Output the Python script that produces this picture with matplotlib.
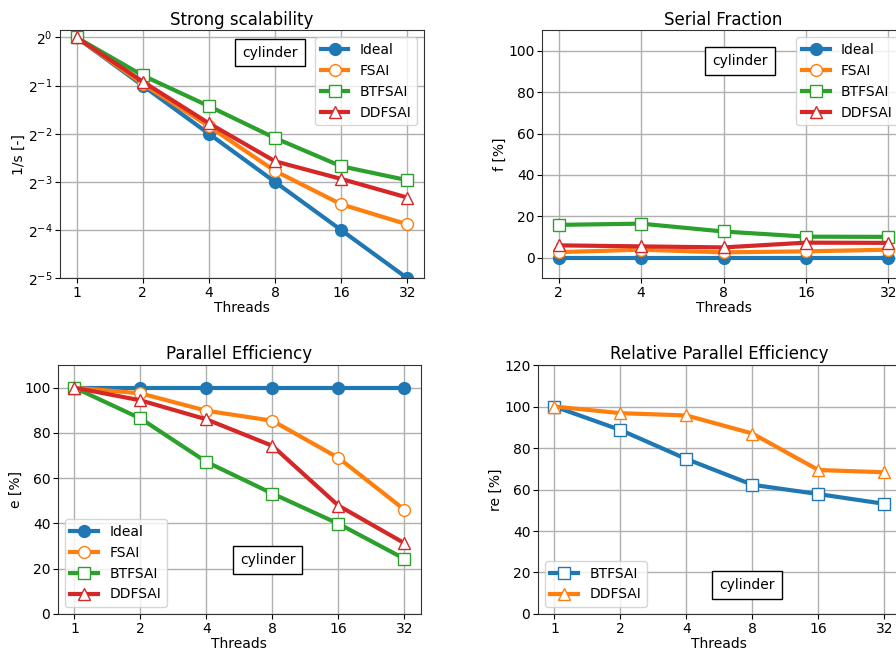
import numpy as np
import matplotlib
matplotlib.use('Agg')
import matplotlib.pyplot as plt

# thread counts
threads = [1, 2, 4, 8, 16, 32]
threads_sf = [2, 4, 8, 16, 32]

# strong scalability, 1/s
ss_ideal = [1.0, 0.5, 0.25, 0.125, 0.0625, 0.03125]
ss_fsai = [1.0, 0.5128, 0.2784, 0.1464, 0.0906, 0.0678]
ss_btfsai = [1.0, 0.5787, 0.3720, 0.2350, 0.1566, 0.1281]
ss_ddfsai = [1.0, 0.5297, 0.2907, 0.1682, 0.1305, 0.0998]

# serial fraction [%]
sf_ideal = [0, 0, 0, 0, 0]
sf_fsai = [2.6, 3.8, 2.5, 3.0, 3.8]
sf_btfsai = [15.8, 16.4, 12.6, 10.1, 10.0]
sf_ddfsai = [5.9, 5.4, 4.9, 7.2, 7.1]

# parallel efficiency [%]
pe_ideal = [100, 100, 100, 100, 100, 100]
pe_fsai = [100, 97.5, 89.8, 85.4, 69.0, 46.1]
pe_btfsai = [100, 86.4, 67.2, 53.2, 39.9, 24.4]
pe_ddfsai = [100, 94.4, 86.0, 74.3, 47.9, 31.3]

# relative parallel efficiency [%]
rpe_btfsai = [100, 88.7, 74.7, 62.3, 57.8, 53.1]
rpe_ddfsai = [100, 96.8, 95.7, 87.0, 69.4, 68.3]

labels = ['Ideal', 'FSAI', 'BTFSAI', 'DDFSAI']
colors = ['#1f77b4', '#ff7f0e', '#2ca02c', '#d62728']
markers = ['o', 'o', 's', '^']

fig = plt.figure(figsize=(8.96, 6.5), dpi=100)
ax1 = fig.add_axes([0.067, 0.572, 0.406, 0.3815])
ax2 = fig.add_axes([0.605, 0.572, 0.405, 0.3815])
ax3 = fig.add_axes([0.0647, 0.0554, 0.405, 0.383])
ax4 = fig.add_axes([0.6004, 0.0554, 0.405, 0.383])


def draw(ax, x, y, color, marker, label, filled=False):
    if filled:
        ax.plot(x, y, color=color, lw=3, marker=marker, ms=8.5, label=label)
    else:
        ax.plot(x, y, color=color, lw=3, marker=marker, ms=8.5, mfc='white',
                mec=color, mew=1.0, label=label)


def tag(ax, x, y):
    ax.text(x, y, 'cylinder', transform=ax.transAxes, ha='center', va='center',
            fontsize=10, bbox=dict(boxstyle='square,pad=0.5', fc='white', ec='black'))


def style(ax, t, ylabel, title):
    ax.set_xscale('log', base=2)
    ax.set_xticks(t)
    ax.set_xticklabels([str(v) for v in t])
    ax.minorticks_off()
    ax.set_xlabel('Threads', fontsize=10, labelpad=1)
    ax.set_ylabel(ylabel, fontsize=10, labelpad=1)
    ax.set_title(title, fontsize=12, pad=4)
    ax.grid(True, color='#b0b0b0', lw=1)
    ax.set_axisbelow(True)
    ax.tick_params(labelsize=10, pad=2)
    for s in ax.spines.values():
        s.set_color('#333333')


ss = [ss_ideal, ss_fsai, ss_btfsai, ss_ddfsai]
for i in range(4):
    draw(ax1, threads, ss[i], colors[i], markers[i], labels[i], filled=(i == 0))
ax1.set_yscale('log', base=2)
ax1.set_ylim(2 ** -5, 2 ** 0.15)
ax1.set_yticks([2.0 ** -k for k in range(6)])
style(ax1, threads, '1/s [-]', 'Strong scalability')
ax1.legend(loc='upper right', fontsize=10)
tag(ax1, 0.577, 0.91)

sf = [sf_ideal, sf_fsai, sf_btfsai, sf_ddfsai]
for i in range(4):
    draw(ax2, threads_sf, sf[i], colors[i], markers[i], labels[i], filled=(i == 0))
ax2.set_ylim(-10, 110)
ax2.set_yticks([0, 20, 40, 60, 80, 100])
style(ax2, threads_sf, 'f [%]', 'Serial Fraction')
ax2.legend(loc='upper right', fontsize=10)
tag(ax2, 0.545, 0.875)

pe = [pe_ideal, pe_fsai, pe_btfsai, pe_ddfsai]
for i in range(4):
    draw(ax3, threads, pe[i], colors[i], markers[i], labels[i], filled=(i == 0))
ax3.set_ylim(0, 110)
ax3.set_yticks([0, 20, 40, 60, 80, 100])
style(ax3, threads, 'e [%]', 'Parallel Efficiency')
ax3.legend(loc='lower left', fontsize=10)
tag(ax3, 0.578, 0.217)

draw(ax4, threads, rpe_btfsai, colors[0], 's', 'BTFSAI')
draw(ax4, threads, rpe_ddfsai, colors[1], '^', 'DDFSAI')
ax4.set_ylim(0, 120)
ax4.set_yticks([0, 20, 40, 60, 80, 100, 120])
style(ax4, threads, 're [%]', 'Relative Parallel Efficiency')
ax4.legend(loc='lower left', fontsize=10)
tag(ax4, 0.576, 0.116)

fig.savefig('out.png', dpi=100)
